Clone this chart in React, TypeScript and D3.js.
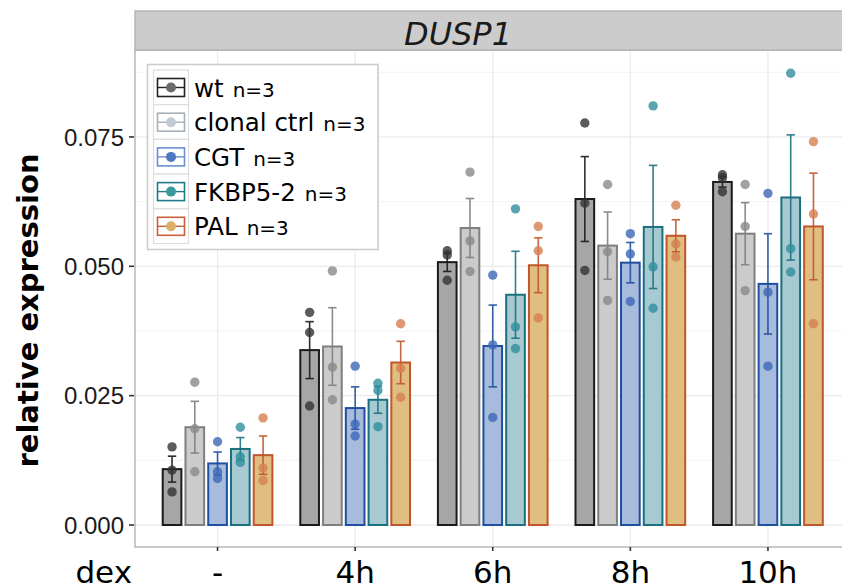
// App.tsx
import React, { useEffect, useRef } from "react";
import * as d3 from "d3";

const conditions = ["-", "4h", "6h", "8h", "10h"];
const lines = ["wt", "clonal ctrl", "CGT", "FKBP5-2", "PAL"];
const yTicks = [0, 0.025, 0.05, 0.075];
const yMinor = [0.0125, 0.0375, 0.0625, 0.0875];

// mean per condition, one array per line
const wtMean = [0.0108, 0.0338, 0.0508, 0.063, 0.0663];
const clonalMean = [0.0189, 0.0345, 0.0574, 0.054, 0.0563];
const cgtMean = [0.0119, 0.0226, 0.0346, 0.0507, 0.0466];
const fkbpMean = [0.0147, 0.0242, 0.0445, 0.0576, 0.0633];
const palMean = [0.0135, 0.0314, 0.0502, 0.0559, 0.0577];

// standard error
const wtSe = [0.0025, 0.0055, 0.0018, 0.0082, 0.001];
const clonalSe = [0.005, 0.0075, 0.0057, 0.0065, 0.006];
const cgtSe = [0.0022, 0.0041, 0.0079, 0.0039, 0.0097];
const fkbpSe = [0.0022, 0.0026, 0.0084, 0.0119, 0.0121];
const palSe = [0.0037, 0.0041, 0.0053, 0.0031, 0.0103];

// replicates
const wtPoints = [[0.0151, 0.0106, 0.0064], [0.0411, 0.0372, 0.023], [0.053, 0.0522, 0.0473], [0.0777, 0.0622, 0.0492], [0.0677, 0.0671, 0.0644]];
const clonalPoints = [[0.0276, 0.0186, 0.0103], [0.0491, 0.0305, 0.0242], [0.0682, 0.0549, 0.049], [0.0658, 0.0528, 0.0434], [0.0658, 0.0577, 0.0453]];
const cgtPoints = [[0.0161, 0.0103, 0.009], [0.0307, 0.0195, 0.0172], [0.0483, 0.0348, 0.0208], [0.0563, 0.0524, 0.0432], [0.0641, 0.045, 0.0307]];
const fkbpPoints = [[0.0189, 0.0132, 0.0121], [0.0274, 0.026, 0.019], [0.0611, 0.0383, 0.0341], [0.081, 0.0499, 0.0419], [0.0873, 0.0534, 0.0489]];
const palPoints = [[0.0207, 0.011, 0.0086], [0.0389, 0.0303, 0.0247], [0.0577, 0.053, 0.04], [0.0618, 0.0543, 0.0518], [0.0741, 0.0601, 0.0389]];

const means = [wtMean, clonalMean, cgtMean, fkbpMean, palMean];
const ses = [wtSe, clonalSe, cgtSe, fkbpSe, palSe];
const points = [wtPoints, clonalPoints, cgtPoints, fkbpPoints, palPoints];

const fills = ["#a6a6a6", "#cbcbcb", "#a7bbdd", "#a7c9d1", "#e0bd80"];
const strokes = ["#1a1a1a", "#7f7f7f", "#1f4fa0", "#1b7080", "#c0562a"];
const dots = ["#333333", "#8a8a8a", "#3d68b8", "#318e9e", "#d4804f"];
const keyStrokes = ["#222222", "#a5b0ba", "#6b8fd3", "#1e7b8a", "#c9603a"];
const keyDots = ["#6a6a6a", "#c3cad2", "#5077c5", "#3b9a9f", "#dcae6a"];

const sans = "'DejaVu Sans', sans-serif";
const arial = "'Liberation Sans', Arial, sans-serif";

export default function App() {
	const ref = useRef<SVGSVGElement>(null);

	useEffect(() => {
		const svg = d3.select(ref.current);
		svg.selectAll("*").remove();

		const left = 135, right = 850.5, top = 50, bottom = 547;

		const x = d3.scaleBand().domain(conditions).range([left, right]).paddingInner(0).paddingOuter(0.1);
		const half = x.bandwidth() * 0.827 / 2;
		const xi = d3.scaleBand().domain(lines).range([-half, half]).paddingInner(0.18).paddingOuter(0.09);
		const y = d3.scaleLinear().domain([-0.00425, 0.0918]).range([bottom, top]);
		const cx = (c: string) => x(c)! + x.bandwidth() / 2;

		// panel grid
		const grid = svg.append("g");
		grid.selectAll(".minor").data(yMinor).enter().append("line")
			.attr("x1", left).attr("x2", right)
			.attr("y1", (d) => y(d)).attr("y2", (d) => y(d))
			.attr("stroke", "#f3f3f3").attr("stroke-width", 1);
		grid.selectAll(".major").data(yTicks).enter().append("line")
			.attr("x1", left).attr("x2", right)
			.attr("y1", (d) => y(d)).attr("y2", (d) => y(d))
			.attr("stroke", "#ebebeb").attr("stroke-width", 1.3);
		grid.selectAll(".vert").data(conditions).enter().append("line")
			.attr("x1", (d) => cx(d)).attr("x2", (d) => cx(d))
			.attr("y1", top).attr("y2", bottom)
			.attr("stroke", "#ebebeb").attr("stroke-width", 1.3);

		// bars, error bars, points
		lines.forEach((ln, li) => {
			const g = svg.append("g");
			conditions.forEach((c, ci) => {
				const bx = cx(c) + xi(ln)!;
				const mid = bx + xi.bandwidth() / 2;
				const m = means[li][ci];
				const s = ses[li][ci];
				g.append("rect")
					.attr("x", bx).attr("y", y(m))
					.attr("width", xi.bandwidth()).attr("height", y(0) - y(m))
					.attr("fill", fills[li]).attr("stroke", strokes[li]).attr("stroke-width", 2);
				const eb = g.append("g").attr("stroke", strokes[li]).attr("stroke-width", 1.6).attr("opacity", 0.9);
				eb.append("line").attr("x1", mid).attr("x2", mid).attr("y1", y(m - s)).attr("y2", y(m + s));
				eb.append("line").attr("x1", mid - 4.2).attr("x2", mid + 4.2).attr("y1", y(m - s)).attr("y2", y(m - s));
				eb.append("line").attr("x1", mid - 4.2).attr("x2", mid + 4.2).attr("y1", y(m + s)).attr("y2", y(m + s));
				g.selectAll(null).data(points[li][ci]).enter().append("circle")
					.attr("cx", mid).attr("cy", (d) => y(d))
					.attr("r", 4.7)
					.attr("fill", dots[li]).attr("fill-opacity", 0.8);
			});
		});

		// panel border and strip
		svg.append("rect")
			.attr("x", left).attr("y", top).attr("width", right - left).attr("height", bottom - top)
			.attr("fill", "none").attr("stroke", "#b3b3b3").attr("stroke-width", 1.4);
		svg.append("rect")
			.attr("x", left).attr("y", 11).attr("width", right - left).attr("height", top - 11)
			.attr("fill", "#cccccc").attr("stroke", "#b3b3b3").attr("stroke-width", 1.4);
		svg.append("text")
			.attr("x", 458).attr("y", 44.5)
			.attr("text-anchor", "middle")
			.style("font-family", sans).style("font-style", "italic").style("font-size", "32px")
			.attr("fill", "#1a1a1a")
			.text("DUSP1");

		// y axis
		const yAxis = svg.append("g");
		yAxis.selectAll("line").data(yTicks).enter().append("line")
			.attr("x1", 129).attr("x2", 134)
			.attr("y1", (d) => y(d)).attr("y2", (d) => y(d))
			.attr("stroke", "#333").attr("stroke-width", 1.6);
		yAxis.selectAll("text").data(yTicks).enter().append("text")
			.attr("x", 124).attr("y", (d) => y(d))
			.attr("dy", "0.36em")
			.attr("text-anchor", "end")
			.style("font-family", arial).style("font-size", "24px")
			.attr("fill", "#1a1a1a")
			.text((d) => d3.format(".3f")(d));

		svg.append("text")
			.attr("transform", `translate(38, ${(top + bottom) / 2 + 12}) rotate(-90)`)
			.attr("text-anchor", "middle")
			.style("font-family", sans).style("font-weight", "bold").style("font-size", "29px")
			.attr("fill", "#000")
			.text("relative expression");

		// x axis
		const xAxis = svg.append("g");
		xAxis.selectAll("line").data(conditions).enter().append("line")
			.attr("x1", (d) => cx(d)).attr("x2", (d) => cx(d))
			.attr("y1", bottom).attr("y2", bottom + 4)
			.attr("stroke", "#333").attr("stroke-width", 1.6);
		xAxis.selectAll("text").data(conditions).enter().append("text")
			.attr("x", (d) => cx(d)).attr("y", 582.5)
			.attr("text-anchor", "middle")
			.style("font-family", sans).style("font-size", "31px")
			.attr("fill", "#000")
			.text((d) => d);
		svg.append("text")
			.attr("x", 132).attr("y", 582.5)
			.attr("text-anchor", "end")
			.style("font-family", sans).style("font-size", "31px")
			.attr("fill", "#000")
			.text("dex");

		// legend
		const lg = svg.append("g");
		lg.append("rect")
			.attr("x", 147.5).attr("y", 64.5).attr("width", 230.5).attr("height", 185)
			.attr("fill", "#fff").attr("stroke", "#cccccc").attr("stroke-width", 1.6);
		lines.forEach((ln, li) => {
			const ry = 70 + li * 34.7;
			const row = lg.append("g");
			row.append("rect")
				.attr("x", 153.5).attr("y", ry).attr("width", 35).attr("height", 34.7)
				.attr("fill", "#fff").attr("stroke", "#dddddd").attr("stroke-width", 1.2);
			row.append("rect")
				.attr("x", 157.5).attr("y", ry + 8.5).attr("width", 27).attr("height", 18)
				.attr("fill", "#fff").attr("stroke", keyStrokes[li]).attr("stroke-width", 1.6);
			row.append("line")
				.attr("x1", 157.5).attr("x2", 184.5).attr("y1", ry + 17.5).attr("y2", ry + 17.5)
				.attr("stroke", keyStrokes[li]).attr("stroke-width", 1.4);
			row.append("circle")
				.attr("cx", 171).attr("cy", ry + 17.5).attr("r", 5)
				.attr("fill", keyDots[li]);
			const t = row.append("text")
				.attr("x", 194).attr("y", ry + 26.5)
				.style("font-family", sans)
				.attr("fill", "#000");
			t.append("tspan").style("font-size", "24.5px").text(ln);
			t.append("tspan").attr("dx", 9).style("font-size", "20px").text("n=3");
		});
	}, []);

	return (
		<svg
			ref={ref}
			width={842}
			height={588}
			style={{ position: "absolute", left: 0, top: 0, background: "#fff" }}
		/>
	);
}
